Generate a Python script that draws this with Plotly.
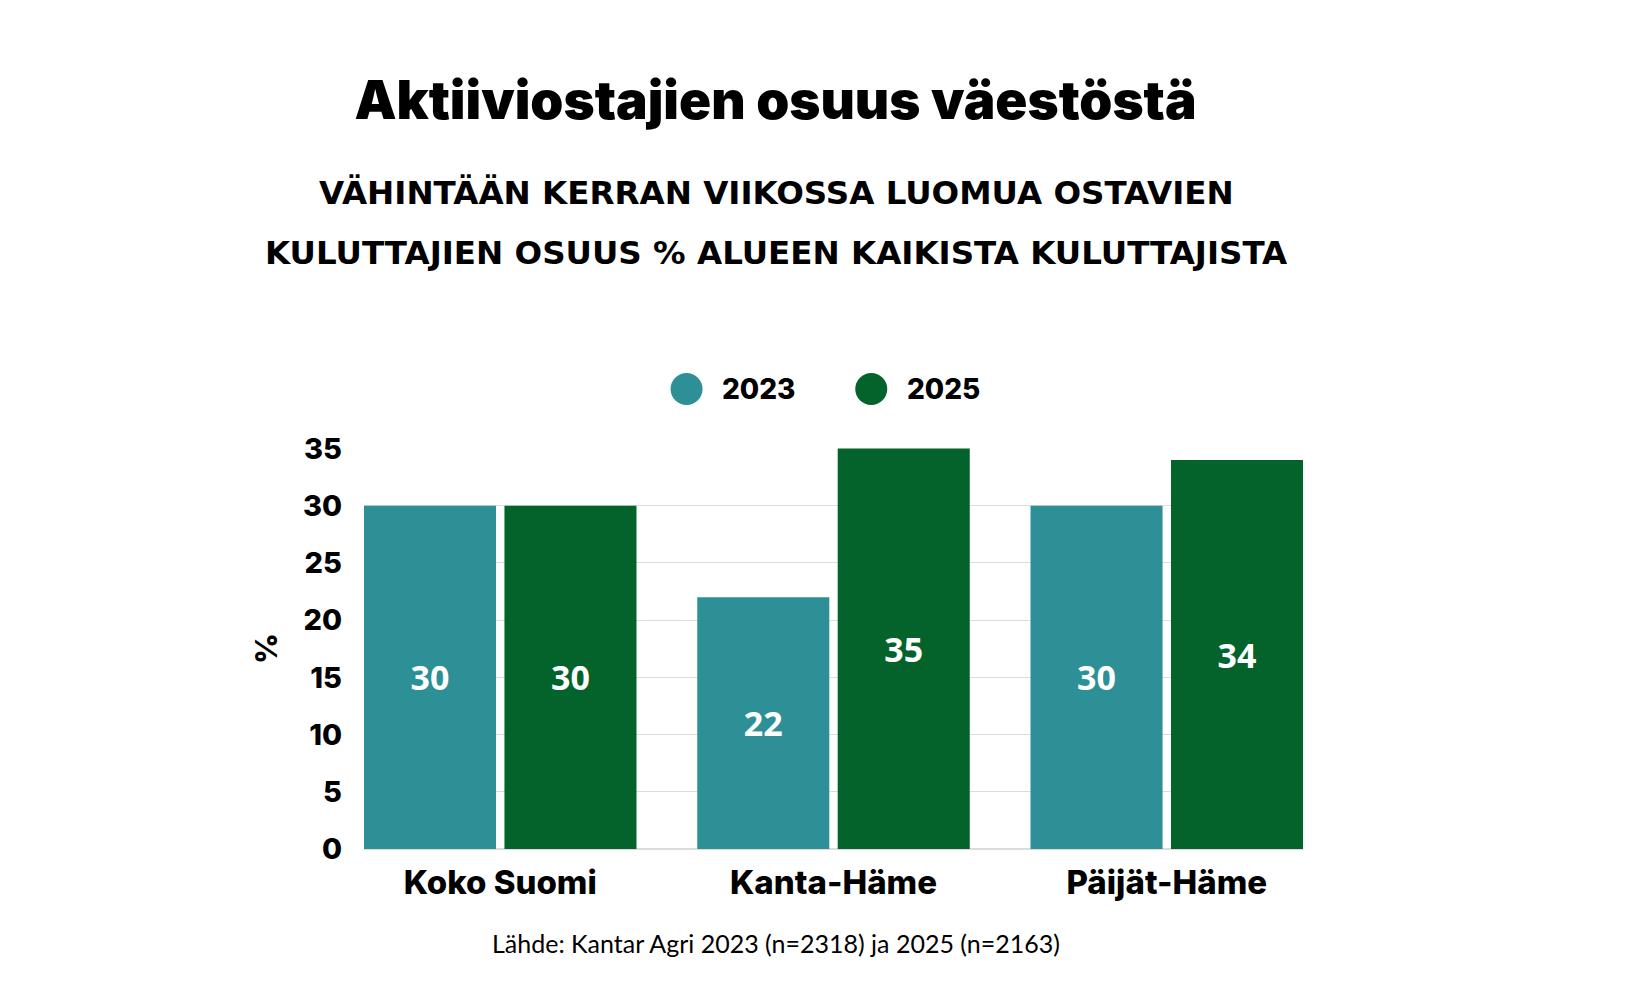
import plotly.graph_objects as go

# data
categories = ["Koko Suomi", "Kanta-Häme", "Päijät-Häme"]
years = ["2023", "2025"]
share_2023 = [30, 22, 30]
share_2025 = [30, 35, 34]
colors = ["#2d9096", "#03632a"]
y_ticks = [0, 5, 10, 15, 20, 25, 30, 35]

title = "Aktiiviostajien osuus väestöstä"
subtitle = ["VÄHINTÄÄN KERRAN VIIKOSSA LUOMUA OSTAVIEN",
            "KULUTTAJIEN OSUUS % ALUEEN KAIKISTA KULUTTAJISTA"]
source = "Lähde: Kantar Agri 2023 (n=2318) ja 2025 (n=2163)"

head_font = "Inter, Lato, sans-serif"

fig = go.Figure()
for name, vals, col in zip(years, [share_2023, share_2025], colors):
    fig.add_trace(go.Bar(
        x=categories, y=vals, name=name, marker_color=col,
        marker_line_width=0, showlegend=False,
        text=vals, textposition="inside", insidetextanchor="middle",
        textfont=dict(family="Open Sans, sans-serif", size=34, color="white", weight="bold"),
    ))

fig.update_layout(
    width=1640, height=1005,
    paper_bgcolor="white", plot_bgcolor="white",
    margin=dict(l=356, r=345, t=440, b=164),
    barmode="group", bargap=0.157, bargroupgap=0.06,
    title=dict(text=title, x=0.468, xanchor="center", y=0.908, yanchor="middle",
               yref="container",
               font=dict(family=head_font, size=53, color="black", weight=900)),
)

fig.update_xaxes(
    range=[-0.4088, 2.4088], showgrid=False, showline=False, ticks="",
    ticklabelstandoff=11,
    tickfont=dict(family=head_font, size=33, color="black", weight=800),
)
fig.update_yaxes(
    range=[0, 35.05], tickvals=y_ticks, showgrid=True, gridcolor="#dcdcdc", gridwidth=1,
    zeroline=True, zerolinecolor="#dcdcdc", zerolinewidth=1.5, showline=False, ticks="",
    ticklabelstandoff=21,
    tickfont=dict(family=head_font, size=29, color="black", weight=800),
    title=dict(text="%", standoff=16, font=dict(family=head_font, size=30, color="black", weight=800)),
)

# subtitle lines and source note
for txt, yy in zip(subtitle, [1.637, 1.4853]):
    fig.add_annotation(text=txt, x=0.4391, y=yy, xref="paper", yref="paper",
                       xanchor="center", yanchor="middle", showarrow=False,
                       font=dict(family="DejaVu Sans, sans-serif", size=32.5, color="black", weight="bold"))
fig.add_annotation(text=source, x=0.4391, y=-0.235, xref="paper", yref="paper",
                   xanchor="center", yanchor="middle", showarrow=False,
                   font=dict(family="Lato, sans-serif", size=25, color="black"))

# legend with large round swatches
for name, col, cx, tx in zip(years, colors, [0.3435, 0.5402], [0.3794, 0.5761]):
    fig.add_shape(type="circle", xref="paper", yref="paper",
                  xsizemode="pixel", ysizemode="pixel", xanchor=cx, yanchor=1.147,
                  x0=-16, x1=16, y0=-16, y1=16,
                  fillcolor=col, line_width=0)
    fig.add_annotation(text=name, x=tx, y=1.147, xref="paper", yref="paper",
                       xanchor="left", yanchor="middle", showarrow=False,
                       font=dict(family=head_font, size=28, color="black", weight=800))

fig.write_html("out.html")
